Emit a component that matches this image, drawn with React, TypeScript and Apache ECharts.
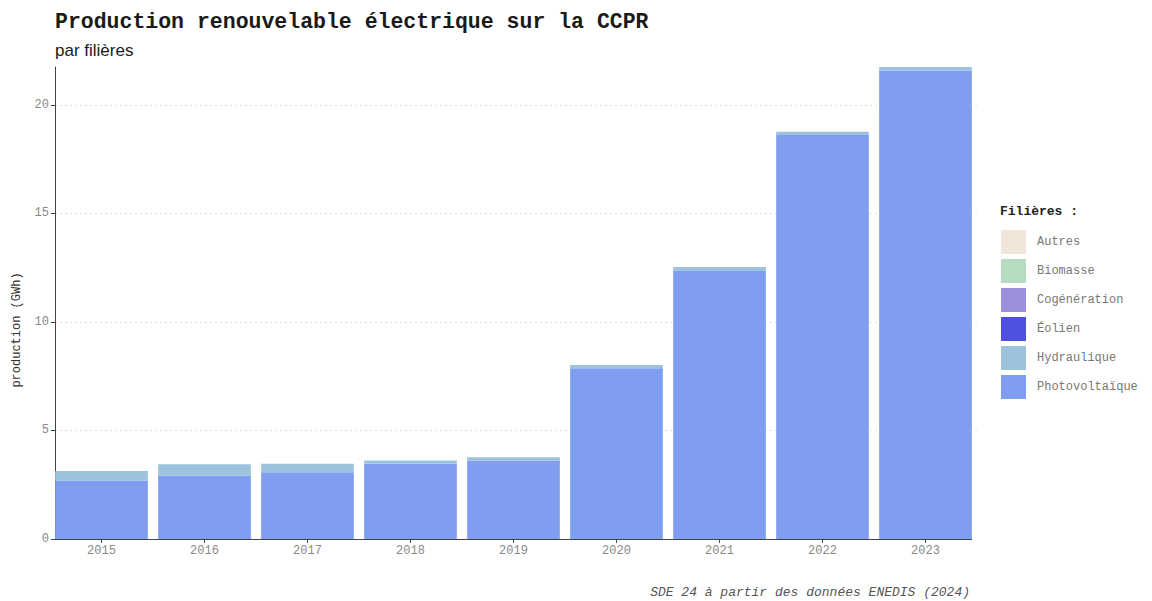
import React, { useEffect, useRef } from "react";
import * as echarts from "echarts";

const years = ["2015", "2016", "2017", "2018", "2019", "2020", "2021", "2022", "2023"];
const photovoltaique = [2.7, 2.93, 3.07, 3.47, 3.62, 7.86, 12.34, 18.61, 21.58];
const hydraulique = [0.43, 0.51, 0.4, 0.15, 0.14, 0.15, 0.19, 0.15, 0.16];
const eolien = [0, 0, 0, 0, 0, 0, 0, 0, 0];
const cogeneration = [0, 0, 0, 0, 0, 0, 0, 0, 0];
const biomasse = [0, 0, 0, 0, 0, 0, 0, 0, 0];
const autres = [0, 0, 0, 0, 0, 0, 0, 0, 0];
const yTicks = [0, 5, 10, 15, 20];
const legendOrder = ["Autres", "Biomasse", "Cogénération", "Éolien", "Hydraulique", "Photovoltaïque"];

const MONO = "'Liberation Mono', 'DejaVu Sans Mono', monospace";

export default function App() {
  const ref = useRef<HTMLDivElement>(null);
  useEffect(() => {
    if (!ref.current) return;
    const chart = echarts.init(ref.current, null, { renderer: "svg" });
    const totals = years.map((_, i) =>
      photovoltaique[i] + hydraulique[i] + eolien[i] + cogeneration[i] + biomasse[i] + autres[i]
    );
    const maxV = Math.max(...totals);
    const seriesDefs = [
      { name: "Photovoltaïque", data: photovoltaique, color: "#7f9ef0" },
      { name: "Hydraulique", data: hydraulique, color: "#9cc2dc" },
      { name: "Éolien", data: eolien, color: "#4f50e0" },
      { name: "Cogénération", data: cogeneration, color: "#9b8fdd" },
      { name: "Biomasse", data: biomasse, color: "#b6dbbf" },
      { name: "Autres", data: autres, color: "#f1e5d9" },
    ];
    chart.setOption({
      animation: false,
      backgroundColor: "#ffffff",
      grid: { left: 50, right: 175, top: 67, bottom: 62 },
      title: [
        {
          text: "Production renouvelable électrique sur la CCPR",
          left: 50,
          top: 6,
          textStyle: { fontFamily: MONO, fontSize: 21.5, fontWeight: "bold", color: "#1a1a1a" },
        },
        {
          text: "par filières",
          left: 50,
          top: 37,
          textStyle: { fontFamily: "'Liberation Sans', Arial, sans-serif", fontSize: 17, fontWeight: "normal", color: "#1a1a1a" },
        },
      ],
      legend: {
        orient: "vertical",
        left: 996,
        top: 225,
        data: legendOrder,
        icon: "rect",
        itemWidth: 25,
        itemHeight: 24,
        itemGap: 5,
        selectedMode: false,
        textStyle: { fontFamily: MONO, fontSize: 12, color: "#777", padding: [0, 0, 0, 6] },
      },
      graphic: [
        {
          type: "text",
          left: 1000,
          top: 205,
          style: { text: "Filières :", font: `bold 13px ${MONO}`, fill: "#222" },
        },
        {
          type: "text",
          x: 17,
          y: 330,
          rotation: Math.PI / 2,
          style: {
            text: "production (GWh)",
            font: `12px ${MONO}`,
            fill: "#333",
            align: "center",
            verticalAlign: "middle",
          },
        },
        {
          type: "text",
          right: 182,
          top: 586,
          style: {
            text: "SDE 24 à partir des données ENEDIS (2024)",
            font: `italic 13px ${MONO}`,
            fill: "#555",
          },
        },
        {
          type: "line",
          shape: { x1: 55, y1: 539.5, x2: 972, y2: 539.5 },
          style: { stroke: "#444", lineWidth: 1 },
          z: 10,
        },
      ],
      xAxis: {
        type: "category",
        data: years,
        axisLine: { show: false },
        axisTick: { show: true, alignWithLabel: true, length: 4, lineStyle: { color: "#444" } },
        axisLabel: { fontFamily: MONO, fontSize: 12, color: "#888", margin: 6 },
      },
      yAxis: {
        type: "value",
        min: 0,
        max: maxV,
        interval: 5,
        offset: -5,
        axisLine: { show: true, lineStyle: { color: "#444", width: 1 } },
        axisTick: { show: true, length: 4, lineStyle: { color: "#444" }, customValues: yTicks },
        axisLabel: { fontFamily: MONO, fontSize: 12, color: "#888", margin: 6, customValues: yTicks },
        splitLine: {
          show: true,
          showMinLine: false,
          lineStyle: { color: "#dddddd", type: [2, 3], width: 1 },
        },
      },
      series: seriesDefs.map((s) => ({
        name: s.name,
        type: "bar",
        stack: "total",
        data: s.data,
        barCategoryGap: "10%",
        itemStyle: { color: s.color },
        emphasis: { disabled: true },
      })),
    });
    return () => chart.dispose();
  }, []);
  return <div ref={ref} style={{ width: 1152, height: 601, position: "absolute", left: 0, top: 0 }} />;
}
